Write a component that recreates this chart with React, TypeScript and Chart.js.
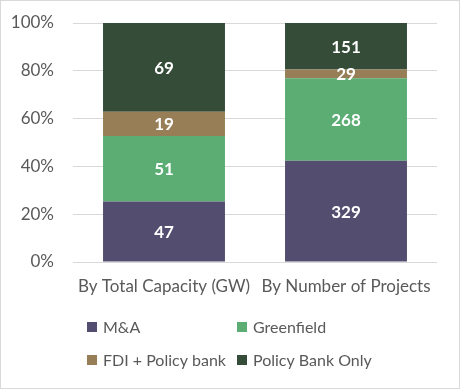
import React, { useEffect, useRef } from "react";
import { Chart, registerables } from "chart.js";
Chart.register(...registerables);

const categories = ["By Total Capacity (GW)", "By Number of Projects"];
const seriesNames = ["M&A", "Greenfield", "FDI + Policy bank", "Policy Bank Only"];
const maValues = [47, 329];
const greenfieldValues = [51, 268];
const fdiValues = [19, 29];
const policyOnlyValues = [69, 151];
const yTickStep = 20;
const colors = ["#534E6F", "#5BAD74", "#977E56", "#354C39"];

const FONT = "Lato, 'Noto Sans', sans-serif";
const TEXT = "#595959";

export default function App() {
  const ref = useRef<HTMLCanvasElement | null>(null);
  useEffect(() => {
    document.body.style.margin = "0";
    const series = [maValues, greenfieldValues, fdiValues, policyOnlyValues];
    const totals = categories.map((_, i) => series.reduce((s, a) => s + a[i], 0));
    const datasets = series.map((vals, k) => ({
      label: seriesNames[k],
      data: vals.map((v, i) => (v / totals[i]) * 100),
      raw: vals,
      backgroundColor: colors[k],
      borderWidth: 0,
      categoryPercentage: 1,
      barPercentage: 0.67,
    }));

    const labelPlugin = {
      id: "valueLabels",
      afterDatasetsDraw(chart: any) {
        const ctx = chart.ctx;
        ctx.save();
        ctx.font = `bold 17px ${FONT}`;
        ctx.fillStyle = "#ffffff";
        ctx.textAlign = "center";
        ctx.textBaseline = "middle";
        chart.data.datasets.forEach((ds: any, di: number) => {
          const meta = chart.getDatasetMeta(di);
          meta.data.forEach((el: any, i: number) => {
            const y = (el.y + el.base) / 2;
            ctx.fillText(String(ds.raw[i]), el.x, y + 1);
          });
        });
        ctx.restore();
      },
    };

    const legendPlugin = {
      id: "gridLegend",
      afterDraw(chart: any) {
        const ctx = chart.ctx;
        ctx.save();
        ctx.font = `16px ${FONT}`;
        ctx.textBaseline = "middle";
        ctx.textAlign = "left";
        const colX = [87, 237];
        const rowY = [327, 360];
        chart.data.datasets.forEach((ds: any, k: number) => {
          const x = colX[k % 2];
          const y = rowY[Math.floor(k / 2)];
          ctx.fillStyle = ds.backgroundColor;
          ctx.fillRect(x, y - 5, 10, 10);
          ctx.fillStyle = TEXT;
          ctx.fillText(ds.label, x + 16, y + 1);
        });
        ctx.strokeStyle = "#d9d9d9";
        ctx.lineWidth = 1;
        ctx.strokeRect(0.5, 0.5, chart.width - 1, chart.height - 1);
        ctx.restore();
      },
    };

    const chart = new Chart(ref.current as HTMLCanvasElement, {
      type: "bar",
      data: { labels: categories, datasets: datasets as any },
      options: {
        animation: false,
        responsive: false,
        layout: { padding: { top: 23, right: 23, left: 0, bottom: 0 } },
        plugins: { legend: { display: false }, tooltip: { enabled: false } },
        scales: {
          x: {
            stacked: true,
            grid: { display: false, drawTicks: false },
            border: { display: false },
            ticks: { color: TEXT, font: { family: FONT, size: 17 }, padding: 14, maxRotation: 0, autoSkip: false },
            afterFit(scale: any) { scale.height = 127; scale.paddingLeft = 0; scale.paddingRight = 0; },
          },
          y: {
            stacked: true,
            min: 0,
            max: 100,
            grid: { color: "#d9d9d9", lineWidth: 1, drawTicks: false },
            border: { display: false },
            ticks: {
              stepSize: yTickStep,
              color: TEXT,
              font: { family: FONT, size: 17 },
              padding: 19,
              callback: (v: any) => v + "%",
            },
            afterFit(scale: any) { scale.width = 73; scale.paddingTop = 0; scale.paddingBottom = 0; },
          },
        },
      },
      plugins: [labelPlugin, legendPlugin],
    });
    return () => chart.destroy();
  }, []);
  return <canvas ref={ref} width={460} height={389} style={{ display: "block" }} />;
}
